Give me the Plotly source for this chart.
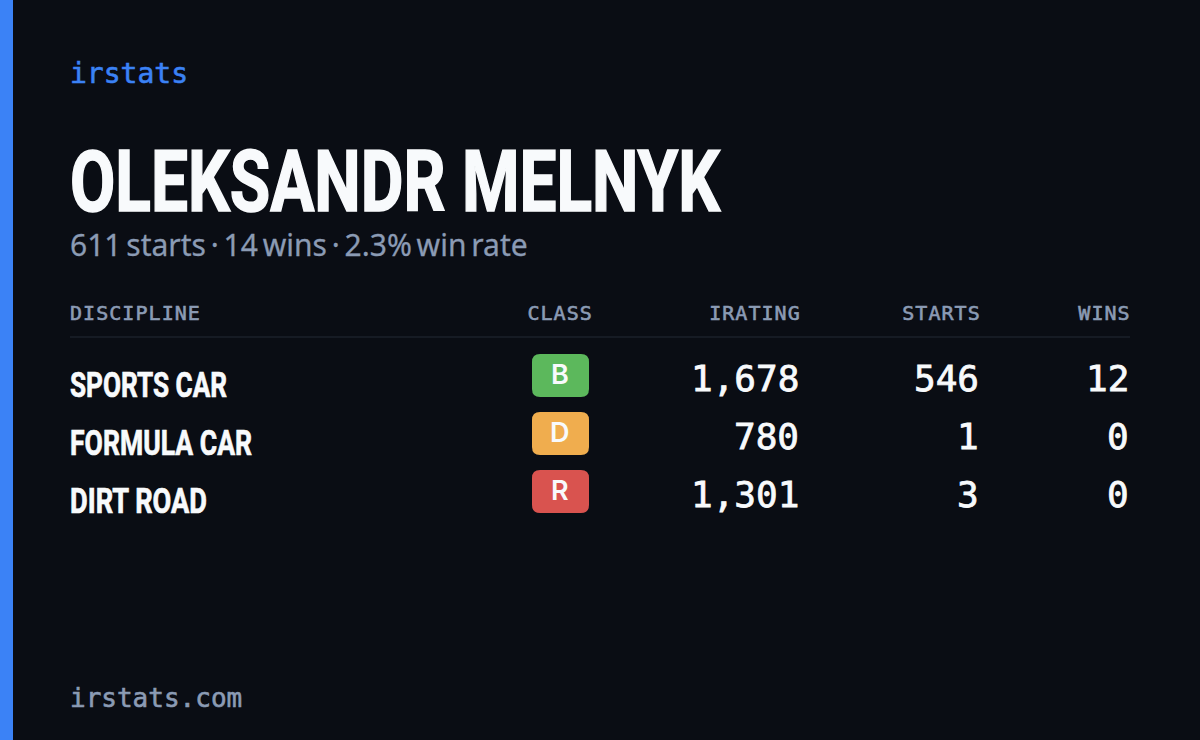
import json
import plotly.graph_objects as go

# Card values
brand = 'irstats'
driver_name = 'OLEKSANDR MELNYK'
summary = '611 starts · 14 wins · 2.3% win rate'
footer = 'irstats.com'

headers = ['DISCIPLINE', 'CLASS', 'IRATING', 'STARTS', 'WINS']
disciplines = ['SPORTS CAR', 'FORMULA CAR', 'DIRT ROAD']
classes = ['B', 'D', 'R']
class_colors = ['#5cb85c', '#f0ad4e', '#d9534f']
iratings = [1678, 780, 1301]
starts = [546, 1, 3]
wins = [12, 0, 0]

BG = '#0a0d14'
BLUE = '#3b82f6'
WHITE = '#f8fafc'
GREY = '#8b9bb4'
MONO = 'DejaVu Sans Mono'
SANS = 'Noto Sans'
HEAVY = 'Roboto'

# No condensed face is installed, so squeeze these to the measured widths in the page
squeeze = {driver_name: 650, disciplines[0]: 157, disciplines[1]: 182, disciplines[2]: 137}
fig = go.Figure()


def add_text(x, y, text, size, color, family, anchor='left', weight=400):
    fig.add_annotation(x=x, y=y, text=text, showarrow=False, xanchor=anchor, yanchor='middle',
                       borderpad=0, borderwidth=0,
                       font=dict(size=size, color=color, family=family, weight=weight))


def rounded_rect(x0, y0, x1, y1, r):
    return (f'M{x0+r},{y0} L{x1-r},{y0} Q{x1},{y0} {x1},{y0+r} L{x1},{y1-r} Q{x1},{y1} {x1-r},{y1} '
            f'L{x0+r},{y1} Q{x0},{y1} {x0},{y1-r} L{x0},{y0+r} Q{x0},{y0} {x0+r},{y0} Z')


# Left accent and header rule
fig.add_shape(type='rect', x0=0, x1=13, y0=0, y1=740, fillcolor=BLUE, line_width=0)
fig.add_shape(type='line', x0=70, x1=1130, y0=337, y1=337, line=dict(color='#161b24', width=2))

add_text(70, 73, brand, 28, BLUE, MONO)
add_text(70, 182, driver_name, 85, WHITE, HEAVY, weight=700)
add_text(70, 244, summary, 30, GREY, SANS)
add_text(70, 698, footer, 26, GREY, MONO)

# Table header
header_x = [70, 560, 800, 980, 1130]
header_anchor = ['left', 'center', 'right', 'right', 'right']
for x, label, anchor in zip(header_x, headers, header_anchor):
    add_text(x, 313, label, 20, GREY, MONO, anchor)

# Table rows
for i in range(len(disciplines)):
    top = 354 + 58 * i
    fig.add_shape(type='path', path=rounded_rect(532, top, 589, top + 43, 8), fillcolor=class_colors[i], line_width=0)
    add_text(560, top + 20, classes[i], 27, WHITE, 'Inter', 'center', weight=600)
    add_text(70, top + 31, disciplines[i], 35, WHITE, HEAVY, weight=700)
    add_text(799, top + 24, f'{iratings[i]:,}', 36, WHITE, MONO, 'right')
    add_text(979, top + 24, f'{starts[i]:,}', 36, WHITE, MONO, 'right')
    add_text(1129, top + 24, f'{wins[i]:,}', 36, WHITE, MONO, 'right')

fig.update_layout(
    width=1200, height=740,
    margin=dict(l=0, r=0, t=0, b=0),
    paper_bgcolor=BG, plot_bgcolor=BG,
    showlegend=False,
    xaxis=dict(range=[0, 1200], visible=False, fixedrange=True),
    yaxis=dict(range=[740, 0], visible=False, fixedrange=True),
)

# letter spacing, stroke and squeezing are not plotly options, so touch the svg text after drawing
post = """
document.body.style.margin = '0';
document.body.style.background = '%s';
var squeeze = %s;
var headers = %s;
var summary = %s;
document.querySelectorAll('.annotation-text').forEach(function (t) {
    var s = t.textContent, b = t.getBBox(), size = parseFloat(t.style.fontSize);
    var right = b.x + b.width, mid = b.x + b.width / 2;
    if (squeeze[s]) {
        t.setAttribute('textLength', squeeze[s]);
        t.setAttribute('lengthAdjust', 'spacingAndGlyphs');
        t.style.stroke = t.style.fill;
        t.style.strokeWidth = size > 50 ? '1.6px' : '0.7px';
    } else if (s === summary) {
        t.style.wordSpacing = '-3px';
        t.style.stroke = t.style.fill;
        t.style.strokeWidth = '0.3px';
    } else if (t.style.fontFamily.indexOf('Mono') >= 0) {
        t.style.stroke = t.style.fill;
        t.style.strokeWidth = size > 30 ? '0.8px' : '0.6px';
        if (headers.indexOf(s) >= 0) t.style.letterSpacing = '1.05px';
    }
    var a = t.getBBox(), x = parseFloat(t.getAttribute('x')) || 0, dx = b.x - a.x;
    if (headers.indexOf(s) > 1) dx = right - (a.x + a.width) + 0.5;
    if (s === 'CLASS') dx = mid - (a.x + a.width / 2);
    if (size > 30 && !squeeze[s]) dx = 0;
    t.setAttribute('x', x + dx);
});
""" % (BG, json.dumps(squeeze), json.dumps(headers), json.dumps(summary))

fig.write_html('out.html', config={'displayModeBar': False}, post_script=post)
